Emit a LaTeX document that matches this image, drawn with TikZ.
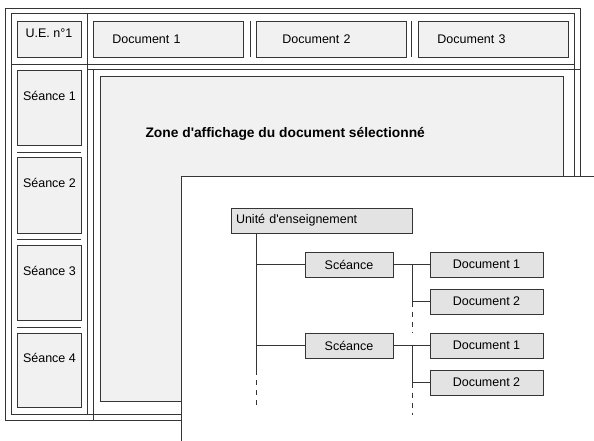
\documentclass[tikz,border=0pt]{standalone}
\usepackage{fontspec}
\setmainfont{Liberation Sans}
\definecolor{linegray}{HTML}{353535}
\definecolor{tabfill}{HTML}{F1F1F1}
\definecolor{treefill}{HTML}{E3E3E3}
\tikzset{x=1pt,y=-1pt,
  frame/.style={draw=linegray,line width=0.9pt},
  tab/.style={draw=linegray,line width=0.9pt,fill=tabfill,inner sep=0pt,
    minimum height=36pt,anchor=north west},
  treebox/.style={draw=linegray,line width=0.9pt,fill=treefill,
    minimum height=25pt,inner sep=0pt},
  link/.style={draw=linegray,line width=0.9pt},
  dots/.style={link,dash pattern=on 5pt off 5pt}}

\begin{document}
\begin{tikzpicture}[font=\fontsize{12.5}{15}\selectfont]
    \useasboundingbox (0,0) rectangle (594,441);
    % window frame
    \draw[frame] (5,8) rectangle (580,420);
    \draw[frame] (11,13) rectangle (574,414);
    \draw[frame] (11,64) -- (574,64);
    \draw[frame] (87,69) -- (580,69);
    \draw[frame] (87,13) -- (87,414);
    \draw[frame] (93,69) -- (93,420);
    % header row
    \node[tab,minimum width=64pt] (ue) at (17,21) {};
    \node[anchor=west] (uelabel) at (22,33) {U.E. n°1};
    \node[tab,minimum width=150pt,text width=112pt,align=left,inner xsep=19pt] (doc1) at (93,21) {Document 1};
    \node[tab,minimum width=150pt,text width=98pt,align=left,inner xsep=26pt] (doc2) at (256,21) {Document 2};
    \node[tab,minimum width=150pt,text width=112pt,align=left,inner xsep=19pt] (doc3) at (418,21) {Document 3};
    \draw[frame] (250,21) -- (250,57);
    \draw[frame] (411,21) -- (411,57);
    % sessions column
    \node[tab,minimum width=64pt,minimum height=75pt] (se1) at (17,70) {};
    \node[tab,minimum width=64pt,minimum height=76pt] (se2) at (17,157) {};
    \node[tab,minimum width=64pt,minimum height=75pt] (se3) at (17,245) {};
    \node[tab,minimum width=64pt,minimum height=74pt] (se4) at (17,333) {};
    \node (se1label) at ([yshift=-26pt]se1.north) {Séance 1};
    \node (se2label) at ([yshift=-26pt]se2.north) {Séance 2};
    \node (se3label) at ([yshift=-26pt]se3.north) {Séance 3};
    \node (se4label) at ([yshift=-25pt]se4.north) {Séance 4};
    \draw[frame] (17,152) -- (81,152);
    \draw[frame] (17,239) -- (81,239);
    \draw[frame] (17,327) -- (81,327);
    % display zone
    \node[tab,minimum width=463pt,minimum height=325pt] (zone) at (100,76) {};
    \node[anchor=west,font=\fontsize{13.8}{16}\selectfont\bfseries] (zonelabel) at (142,134)
        {Zone d\textquotesingle affichage du document sélectionné};
    % tree panel
    \fill[white] (181,176) rectangle (594,441);
    \draw[frame] (594,176) -- (181,176) -- (181,441);
    \node[treebox,minimum width=181pt,text width=171pt,inner xsep=5pt,align=left] (unit) at (321.5,220.5)
        {Unité d\textquotesingle enseignement};
    \node[treebox,minimum width=88pt] (s1) at (349,264.5) {Scéance};
    \node[treebox,minimum width=88pt] (s2) at (349,345.5) {Scéance};
    \node[treebox,minimum width=113pt] (d11) at (486.5,264.5) {Document 1};
    \node[treebox,minimum width=113pt] (d12) at (486.5,301.5) {Document 2};
    \node[treebox,minimum width=113pt] (d21) at (486.5,345.5) {Document 1};
    \node[treebox,minimum width=113pt] (d22) at (486.5,382.5) {Document 2};
    % connectors
    \coordinate (t0) at (256,233);
    \coordinate (t1) at (256,370);
    \coordinate (t2) at (256,409);
    \draw[link] (t0) -- (t1);
    \draw[dots] (t1) -- (t2);
    \draw[link] (t0 |- s1) -- (s1);
    \draw[link] (t0 |- s2) -- (s2);
    \coordinate (u1) at (412,264.5);
    \coordinate (u1end) at (412,333);
    \draw[link] (s1) -- (d11);
    \draw[link] (u1) -- (u1 |- d12) -- (d12);
    \draw[dots] (u1 |- d12) -- (u1end);
    \coordinate (u2) at (412,345.5);
    \coordinate (u2end) at (412,415);
    \draw[link] (s2) -- (d21);
    \draw[link] (u2) -- (u2 |- d22) -- (d22);
    \draw[dots] (u2 |- d22) -- (u2end);
\end{tikzpicture}
\end{document}
